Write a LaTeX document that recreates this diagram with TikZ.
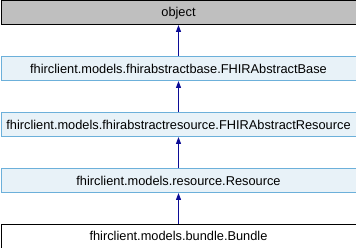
\documentclass[tikz,border=0pt]{standalone}
\usepackage{fontspec}
\setmainfont{Liberation Sans}
\usetikzlibrary{arrows.meta}
\definecolor{basefill}{HTML}{BFBFBF}
\definecolor{classfill}{HTML}{E8F2F8}
\definecolor{classedge}{HTML}{6CB0DA}
\definecolor{inherit}{HTML}{0C0C96}
\begin{document}
\begin{tikzpicture}[x=1pt,y=-1pt,
  classbox/.style={draw, line width=1pt, minimum width=355pt, minimum height=23.5pt,
    inner sep=0pt, anchor=north west, font=\fontsize{12.8}{15}\selectfont},
  basebox/.style={classbox, fill=basefill, draw=black},
  docbox/.style={classbox, fill=classfill, draw=classedge},
  leafbox/.style={classbox, fill=white, draw=black},
  isa/.style={draw=inherit, line width=1.2pt, -{Triangle[width=5pt,length=7pt]}}]
  \useasboundingbox (0,0) rectangle (356,248);
  \node[basebox] (obj) at (0.5,0.5) {object};
  \node[docbox] (base) at (0.5,56.5) {fhirclient.models.fhirabstractbase.FHIRAbstractBase};
  \node[docbox] (absres) at (0.5,112.5) {fhirclient.models.fhirabstractresource.FHIRAbstractResource};
  \node[docbox] (res) at (0.5,168.5) {fhirclient.models.resource.Resource};
  \node[leafbox] (bundle) at (0.5,224) {fhirclient.models.bundle.Bundle};
  \draw[isa] (base.north) -- (obj.south);
  \draw[isa] (absres.north) -- (base.south);
  \draw[isa] (res.north) -- (absres.south);
  \draw[isa] (bundle.north) -- (res.south);
\end{tikzpicture}
\end{document}
